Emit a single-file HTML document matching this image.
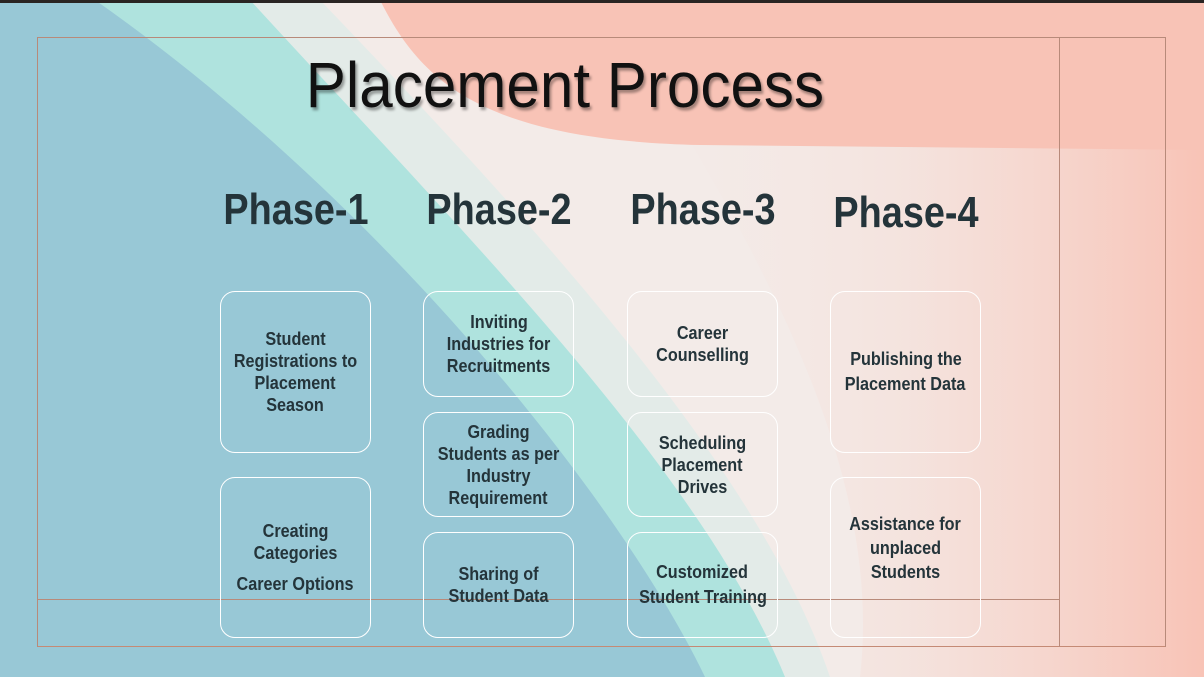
<!DOCTYPE html>
<html><head><meta charset="utf-8"><style>
body{margin:0;width:1204px;height:677px;overflow:hidden;position:relative;font-family:"Liberation Sans",sans-serif;}
svg.bg{position:absolute;left:0;top:0}
.t{position:absolute;left:0;width:1130px;top:48px;text-align:center;font-size:64px;color:#111;text-shadow:2px 3px 3px rgba(0,0,0,.35);transform:scaleX(0.94);transform-origin:564px 0}
.ph{position:absolute;top:185px;width:200px;margin-left:-100px;text-align:center;font-size:44px;font-weight:bold;color:#24343a;transform:scaleX(0.86)}
.b{position:absolute;width:151px;border:1.5px solid #fff;border-radius:15px;display:flex;align-items:center;justify-content:center;flex-direction:column;text-align:center;font-weight:bold;font-size:18px;line-height:22px;color:#24343a;box-sizing:border-box}
.b div,.b span{display:block;transform:scaleX(0.9);white-space:nowrap}
.ln{position:absolute;background:#b88a7a}
</style></head><body>
<svg class="bg" width="1204" height="677">
<defs>
<linearGradient id="g" x1="0" y1="0" x2="1" y2="0">
<stop offset="0" stop-color="#f3ece9" stop-opacity="0"/>
<stop offset="0.5" stop-color="#f5e0da" stop-opacity="0.7"/>
<stop offset="1" stop-color="#f8c3b6"/>
</linearGradient>
</defs>
<rect width="1204" height="677" fill="#98c8d6"/>
<path d="M95,0 L1204,0 L1204,677 L705,677 C620,500 380,200 95,0Z" fill="#afe3de"/>
<path d="M250,0 L1204,0 L1204,677 L785,677 C700,470 470,240 250,0Z" fill="#e3ebe8"/>
<path d="M320,0 L1204,0 L1204,677 L830,677 C760,470 540,230 320,0Z" fill="#f3ebe8"/>
<path d="M600,0 L1204,0 L1204,677 L860,677 C880,500 800,300 600,0Z" fill="url(#g)"/>
<path d="M380,0 C420,80 480,140 700,145 L1204,150 L1204,0Z" fill="#f8c3b6"/>
<rect width="1204" height="3" fill="#2a2523"/>
</svg>
<div class="ln" style="left:37px;top:37px;width:1129px;height:1px"></div>
<div class="ln" style="left:37px;top:646px;width:1129px;height:1px;background:#c58a75"></div>
<div class="ln" style="left:37px;top:37px;width:1px;height:610px"></div>
<div class="ln" style="left:1165px;top:37px;width:1px;height:610px"></div>
<div class="ln" style="left:1059px;top:37px;width:1px;height:610px"></div>
<div class="ln" style="left:37px;top:599px;width:1022px;height:1px"></div>
<div class="t">Placement Process</div>
<div class="ph" style="left:296px">Phase-1</div>
<div class="ph" style="left:499px">Phase-2</div>
<div class="ph" style="left:703px">Phase-3</div>
<div class="ph" style="left:906px;top:188px">Phase-4</div>

<div class="b" style="left:220px;top:291px;height:162px"><div>Student</div><div>Registrations to</div><div>Placement</div><div>Season</div></div>
<div class="b" style="left:220px;top:477px;height:161px"><div>Creating</div><div>Categories</div><div style="margin-top:9px">Career Options</div></div>

<div class="b" style="left:423px;top:291px;height:106px"><div>Inviting</div><div>Industries for</div><div>Recruitments</div></div>
<div class="b" style="left:423px;top:412px;height:105px"><div>Grading</div><div>Students as per</div><div>Industry</div><div>Requirement</div></div>
<div class="b" style="left:423px;top:532px;height:106px"><div>Sharing of</div><div>Student Data</div></div>

<div class="b" style="left:627px;top:291px;height:106px;justify-content:flex-start;padding-top:30px"><div>Career</div><div>Counselling</div></div>
<div class="b" style="left:627px;top:412px;height:105px"><div>Scheduling</div><div>Placement</div><div>Drives</div></div>
<div class="b" style="left:627px;top:532px;height:106px;line-height:25px"><div>Customized</div><div>Student Training</div></div>

<div class="b" style="left:830px;top:291px;height:162px;line-height:25px"><div>Publishing the</div><div>Placement Data</div></div>
<div class="b" style="left:830px;top:477px;height:161px;justify-content:flex-start;padding-top:34px;line-height:24px"><div>Assistance for</div><div>unplaced</div><div>Students</div></div>
</body></html>
